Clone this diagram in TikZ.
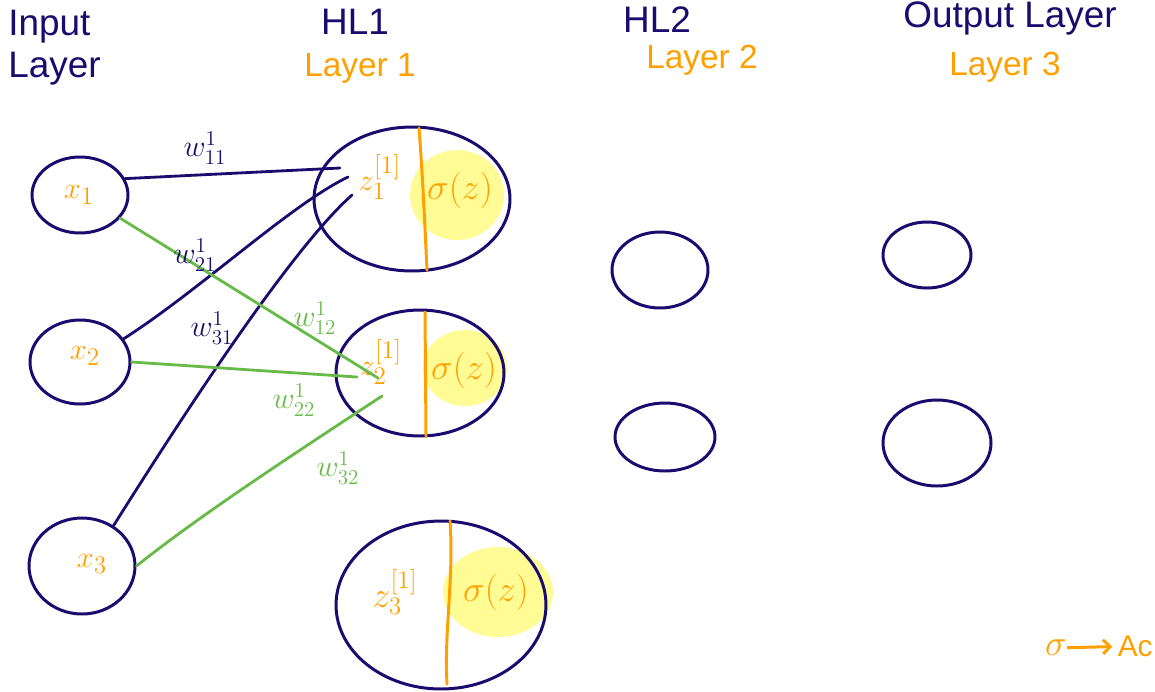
\documentclass[tikz,border=0pt]{standalone}
\usepackage{fontspec}
\setmainfont{Liberation Sans}
\usetikzlibrary{shapes.geometric,arrows.meta}
\definecolor{navy}{RGB}{25,12,110}
\definecolor{org}{RGB}{255,160,0}
\definecolor{grn}{RGB}{104,186,72}
\definecolor{yel}{RGB}{255,252,150}
\tikzset{
  neuron/.style={draw=navy, line width=1.7pt, ellipse, inner sep=0pt},
  navyedge/.style={draw=navy, line width=1.6pt, line cap=round},
  greenedge/.style={draw=grn, line width=1.6pt, line cap=round},
  divider/.style={draw=org, line width=1.7pt, line cap=round},
  hdr/.style={text=navy, font=\fontsize{21}{24}\selectfont, inner sep=0pt},
  lyr/.style={text=org, font=\fontsize{19}{22}\selectfont, inner sep=0pt},
  olab/.style={text=org, font=\fontsize{19}{22}\selectfont, inner sep=0pt},
  nlab/.style={text=navy, font=\fontsize{17}{20}\selectfont, inner sep=0pt},
  glab/.style={text=grn, font=\fontsize{17}{20}\selectfont, inner sep=0pt},
}
\begin{document}
\begin{tikzpicture}[x=0.02cm, y=-0.02cm]
\useasboundingbox (0,0) rectangle (1155,691);
\clip (0,0) rectangle (1155,691);
% yellow activation blobs
\fill[yel] (457,195) ellipse [x radius=47, y radius=45];
\fill[yel] (465,368) ellipse [x radius=42, y radius=38];
\fill[yel] (498,592) ellipse [x radius=55, y radius=45];
% headers
\node[hdr, anchor=north west, align=left] (tin) at (8,10) {Input\\Layer};
\node[hdr] (thl1) at (355,22) {HL1};
\node[lyr] (tl1) at (360,68) {Layer 1};
\node[hdr] (thl2) at (657,20) {HL2};
\node[lyr] (tl2) at (702,60) {Layer 2};
\node[hdr] (tout) at (1010,18) {Output Layer};
\node[lyr] (tl3) at (1005,67) {Layer 3};
% input neurons
\node[neuron, minimum width=1.92cm, minimum height=1.52cm] (x1) at (80,195) {};
\node[neuron, minimum width=2.0cm, minimum height=1.68cm] (x2) at (80,362) {};
\node[neuron, minimum width=2.12cm, minimum height=1.92cm] (x3) at (82,566) {};
% hidden layer 1
\node[neuron, minimum width=3.92cm, minimum height=2.88cm] (h1) at (412,199) {};
\node[neuron, minimum width=3.36cm, minimum height=2.52cm] (h2) at (420,373) {};
\node[neuron, minimum width=4.2cm, minimum height=3.36cm] (h3) at (441,605) {};
% hidden layer 2
\node[neuron, minimum width=1.92cm, minimum height=1.52cm] (a1) at (660,270) {};
\node[neuron, minimum width=2.0cm, minimum height=1.36cm] (a2) at (665,437) {};
% output layer
\node[neuron, minimum width=1.76cm, minimum height=1.32cm] (o1) at (927,255) {};
\node[neuron, minimum width=2.16cm, minimum height=1.72cm] (o2) at (937,443) {};
% dividers
\coordinate (d1t) at (419,128); \coordinate (d1b) at (427,270);
\coordinate (d2t) at (425,312); \coordinate (d2b) at (426,436);
\coordinate (d3t) at (450,521); \coordinate (d3b) at (447,684);
\draw[divider] (d1t) .. controls (423,180) and (425,230) .. (d1b);
\draw[divider] (d2t) -- (d2b);
\draw[divider] (d3t) .. controls (454,580) and (444,630) .. (d3b);
% labels inside neurons
\node[olab] (lx1) at (79,195) {$x_1$};
\node[olab] (lx2) at (85,356) {$x_2$};
\node[olab] (lx3) at (92,564) {$x_3$};
\node[olab] (z1) at (380,177) {$z_1^{[1]}$};
\node[olab] (z2) at (381,362) {$z_2^{[1]}$};
\node[olab, font=\fontsize{22}{26}\selectfont] (z3) at (395,592) {$z_3^{[1]}$};
\node[olab, font=\fontsize{22}{26}\selectfont] (s1) at (460,190) {$\sigma(z)$};
\node[olab, font=\fontsize{21}{24}\selectfont] (s2) at (464,370) {$\sigma(z)$};
\node[olab, font=\fontsize{22}{26}\selectfont] (s3) at (496,592) {$\sigma(z)$};
% edge end points inside HL1 neurons
\coordinate (e11) at (340,168);
\coordinate (e21) at (348,177);
\coordinate (e31) at (352,195);
\coordinate (e12) at (378,378);
\coordinate (e22) at (357,377);
\coordinate (e32) at (382,396);
% navy edges to h1
\draw[navyedge] (x1.20) -- (e11);
\draw[navyedge] (x2.28) .. controls (200,290) and (290,205) .. (e21);
\draw[navyedge] (x3.52) .. controls (180,420) and (290,250) .. (e31);
% green edges to h2
\draw[greenedge] (x1.-30) -- (e12);
\draw[greenedge] (x2.east) -- (e22);
\draw[greenedge] (x3.east) .. controls (200,515) and (300,450) .. (e32);
% weight labels
\node[nlab] (w11) at (205,148) {$w_{11}^{1}$};
\node[nlab] (w21) at (195,255) {$w_{21}^{1}$};
\node[nlab] (w31) at (212,328) {$w_{31}^{1}$};
\node[glab] (w12) at (315,318) {$w_{12}^{1}$};
\node[glab] (w22) at (294,400) {$w_{22}^{1}$};
\node[glab] (w32) at (338,468) {$w_{32}^{1}$};
% bottom right note
\node[olab, font=\fontsize{20}{24}\selectfont] (sig) at (1056,648) {$\sigma$};
\node[olab, anchor=east, font=\fontsize{17}{20}\selectfont] (ac) at (1153,646) {Ac};
\draw[draw=org, line width=1.7pt, shorten >=3pt, -{Straight Barb[length=4pt]}] (sig) -- (ac);
\end{tikzpicture}
\end{document}
